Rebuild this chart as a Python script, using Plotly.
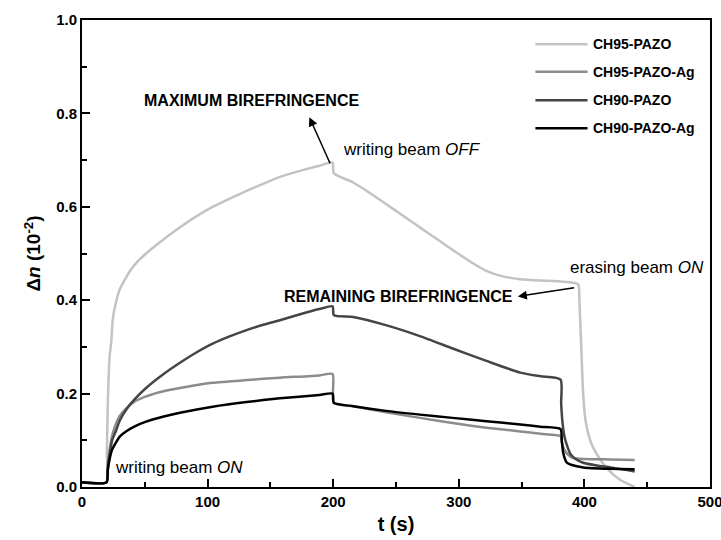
import plotly.graph_objects as go

# ---------------- data ----------------
series_names = ["CH95-PAZO", "CH95-PAZO-Ag", "CH90-PAZO", "CH90-PAZO-Ag"]

t_ch95 = [0, 19.5, 19.8, 20.3, 21, 22, 23.3, 24.5, 27, 30, 35, 38, 44, 51, 60, 78, 90, 104, 118,
          131, 145, 157.5, 175, 189, 199.5, 200.5, 216, 230, 242.6, 255, 269, 282, 295.5, 309,
          322, 335, 349, 365, 381, 395, 396, 397.5, 399, 401, 403.5, 406, 410, 418, 428, 440]
v_ch95 = [0.01, 0.01, 0.07, 0.15, 0.22, 0.28, 0.31, 0.36, 0.395, 0.423, 0.448, 0.462, 0.482,
          0.50, 0.52, 0.556, 0.578, 0.60, 0.618, 0.634, 0.65, 0.664, 0.678, 0.688, 0.695, 0.672,
          0.652, 0.628, 0.605, 0.582, 0.556, 0.532, 0.507, 0.483, 0.463, 0.451, 0.445, 0.442,
          0.44, 0.434, 0.40, 0.30, 0.20, 0.14, 0.11, 0.09, 0.07, 0.04, 0.016, 0.0]

t_ch95ag = [0, 19.5, 20.5, 22, 24, 27, 30, 35, 42, 51, 65, 78, 104, 131, 157.5, 189, 199.5,
            200.5, 216, 242, 269, 295, 322, 349, 365, 381, 382, 384, 386, 388, 391, 400, 420, 440]
v_ch95ag = [0.01, 0.01, 0.05, 0.08, 0.11, 0.135, 0.152, 0.168, 0.183, 0.194, 0.205, 0.212,
            0.223, 0.229, 0.234, 0.239, 0.242, 0.18, 0.173, 0.16, 0.148, 0.137, 0.127, 0.119,
            0.114, 0.109, 0.095, 0.08, 0.072, 0.067, 0.062, 0.06, 0.059, 0.058]

t_ch90 = [0, 19.5, 20.5, 22, 24, 27, 30, 35, 42, 51, 65, 78, 91, 104, 117, 131, 145, 157.5,
          175, 189, 199.5, 200.5, 216, 242.6, 269, 295.7, 322, 349, 365, 381, 381.5, 382.5, 384,
          386, 389, 393, 399, 410, 421, 440]
v_ch90 = [0.01, 0.01, 0.04, 0.07, 0.1, 0.12, 0.142, 0.165, 0.188, 0.212, 0.242, 0.266, 0.288,
          0.307, 0.322, 0.336, 0.348, 0.357, 0.371, 0.381, 0.387, 0.368, 0.364, 0.346, 0.323,
          0.296, 0.27, 0.245, 0.237, 0.23, 0.18, 0.14, 0.11, 0.09, 0.07, 0.06, 0.052, 0.046,
          0.042, 0.033]

t_ch90ag = [0, 19.5, 20.5, 22, 24, 27, 30, 35, 42, 51, 65, 78, 104, 131, 157.5, 189, 199.5,
            200.5, 216, 242, 269, 295, 322, 349, 365, 381, 382, 383, 384.5, 386, 390, 399, 420, 440]
v_ch90ag = [0.01, 0.01, 0.035, 0.06, 0.08, 0.095, 0.108, 0.119, 0.13, 0.14, 0.151, 0.159, 0.172,
            0.182, 0.19, 0.197, 0.2, 0.18, 0.173, 0.163, 0.155, 0.148, 0.141, 0.134, 0.129,
            0.124, 0.1, 0.075, 0.06, 0.052, 0.047, 0.042, 0.039, 0.038]

x_ticks = [0, 100, 200, 300, 400, 500]
y_ticks = [0.0, 0.2, 0.4, 0.6, 0.8, 1.0]

# ---------------- style ----------------
FONT = "Arial, 'Liberation Sans', sans-serif"
colors = ["#c3c3c3", "#8c8c8c", "#454545", "#000000"]
xs = [t_ch95, t_ch95ag, t_ch90, t_ch90ag]
ys = [v_ch95, v_ch95ag, v_ch90, v_ch90ag]

fig = go.Figure()
for i, (name, x, y, c) in enumerate(zip(series_names, xs, ys, colors)):
    fig.add_trace(go.Scatter(x=x, y=y, mode="lines", name=name, showlegend=False,
                             line=dict(color=c, width=2.5, shape="spline", smoothing=0.6)))

axis_common = dict(
    showline=True, linecolor="black", linewidth=2, mirror=True,
    ticks="inside", ticklen=8, tickwidth=1.5, tickcolor="black",
    showgrid=False, zeroline=False, automargin=False, ticklabeloverflow="allow",
    tickfont=dict(family=FONT, size=15, color="black", weight="bold"),
)

fig.update_xaxes(
    range=[0, 500], tickvals=x_ticks, ticktext=[str(v) for v in x_ticks],
    minor=dict(ticks="inside", ticklen=5, tickwidth=1.5, tickcolor="black", dtick=50),
    title=dict(text="<b>t (s)</b>", font=dict(family=FONT, size=20, color="black"), standoff=8),
    **axis_common,
)
fig.update_yaxes(
    range=[0, 1.0], tickvals=y_ticks, ticktext=[f"{v:.1f}" for v in y_ticks],
    minor=dict(ticks="inside", ticklen=5, tickwidth=1.5, tickcolor="black", dtick=0.1),
    title=dict(text="<b>Δ<i>n</i> (10<sup>-2</sup>)</b>",
               font=dict(family=FONT, size=19, color="black"), standoff=10),
    **axis_common,
)

ann_bold = dict(family=FONT, size=16, color="black", weight="bold")
ann_reg = dict(family=FONT, size=17, color="black")

annotations = [
    dict(x=48, y=0.828, text="MAXIMUM BIREFRINGENCE", font=ann_bold),
    dict(x=206, y=0.722, text="writing beam <i>OFF</i>", font=ann_reg),
    dict(x=159, y=0.408, text="REMAINING BIREFRINGENCE", font=ann_bold),
    dict(x=387, y=0.47, text="erasing beam <i>ON</i>", font=ann_reg),
    dict(x=24.3, y=0.041, text="writing beam <i>ON</i>", font=ann_reg),
]
for a in annotations:
    fig.add_annotation(xref="x", yref="y", xanchor="left", yanchor="middle",
                       showarrow=False, **a)

# arrows
fig.add_annotation(x=181, y=0.792, ax=198, ay=0.69, xref="x", yref="y", axref="x", ayref="y",
                   text="", showarrow=True, arrowhead=2, arrowsize=1.2, arrowwidth=1.5,
                   arrowcolor="black")
fig.add_annotation(x=347, y=0.408, ax=393, ay=0.427, xref="x", yref="y", axref="x", ayref="y",
                   text="", showarrow=True, arrowhead=2, arrowsize=1.2, arrowwidth=1.5,
                   arrowcolor="black")

# legend drawn in paper coordinates (line sample + label)
leg_x0, leg_x1, leg_tx = 0.722, 0.805, 0.811
leg_y = [0.948, 0.889, 0.828, 0.768]
for name, c, yy in zip(series_names, colors, leg_y):
    fig.add_shape(type="line", xref="paper", yref="paper", x0=leg_x0, x1=leg_x1, y0=yy, y1=yy,
                  line=dict(color=c, width=2.5))
    fig.add_annotation(xref="paper", yref="paper", x=leg_tx, y=yy, xanchor="left",
                       yanchor="middle", text=name, showarrow=False,
                       font=dict(family=FONT, size=14, color="black", weight="bold"))

fig.update_layout(
    width=721, height=540,
    margin=dict(l=82, r=11, t=20, b=53),
    paper_bgcolor="white", plot_bgcolor="white",
    showlegend=False,
)

fig.write_html("out.html", config={"displayModeBar": False},
               post_script="document.body.style.margin='0';document.body.style.padding='0';")
